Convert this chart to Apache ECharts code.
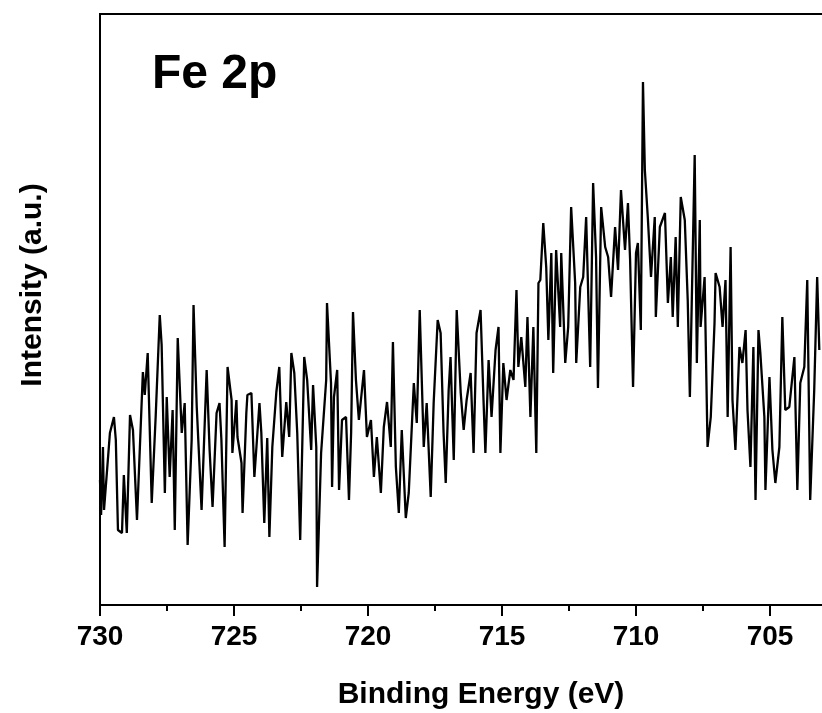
<!DOCTYPE html>
<html>
<head>
<meta charset="utf-8">
<script src="https://cdn.jsdelivr.net/npm/echarts@6/dist/echarts.min.js"></script>
<style>html,body{margin:0;padding:0;background:#fff;overflow:hidden;width:822px;height:713px;}#c{width:907px;height:713px;}</style>
</head>
<body>
<div id="c"></div>
<script>
const energies = [
730.00,729.96,729.89,729.85,729.63,729.48,729.41,729.33,729.18,729.11,729.00,728.88,728.77,728.62,728.40,728.33,728.22,728.07,727.92,727.77,727.70,727.58,727.51,727.40,727.29,727.21,727.10,726.95,726.84,726.73,726.58,726.51,726.39,726.21,726.02,725.91,725.80,725.65,725.54,
725.47,725.35,725.24,725.09,725.06,724.91,724.87,724.72,724.68,724.54,724.50,724.35,724.24,724.05,723.98,723.87,723.76,723.68,723.57,723.42,723.31,723.20,723.05,722.94,722.86,722.75,722.64,722.53,722.38,722.27,722.12,722.05,721.93,721.90,721.75,721.56,721.53,721.38,721.34,721.27,
721.15,721.08,720.97,720.82,720.71,720.63,720.56,720.45,720.34,720.15,720.04,719.89,719.78,719.67,719.52,719.41,719.29,719.15,719.07,718.96,718.85,718.74,718.59,718.48,718.29,718.18,718.07,717.92,717.81,717.66,717.55,717.40,717.29,717.18,717.10,716.99,716.92,716.80,716.69,
716.54,716.43,716.32,716.17,716.06,715.95,715.80,715.69,715.62,715.50,715.39,715.24,715.13,715.06,714.95,714.83,714.69,714.57,714.46,714.39,714.28,714.13,714.05,713.94,713.83,713.72,713.64,713.57,713.46,713.35,713.27,713.16,713.09,712.98,712.83,
712.79,712.64,712.53,712.42,712.27,712.23,712.08,711.97,711.86,711.71,711.60,711.49,711.42,711.30,711.15,711.04,710.93,710.78,710.67,710.56,710.41,710.30,710.22,710.11,710.00,709.93,709.82,709.74,709.67,709.56,709.44,709.30,709.26,709.11,708.92,708.81,708.70,708.63,708.52,
708.44,708.33,708.18,708.07,707.99,707.92,707.81,707.73,707.62,707.59,707.44,707.33,707.21,707.07,707.03,706.88,706.77,706.66,706.58,706.47,706.40,706.29,706.14,706.03,705.91,705.84,705.73,705.62,705.54,705.43,705.36,
705.21,705.17,705.02,704.91,704.80,704.65,704.54,704.43,704.28,704.09,703.98,703.87,703.72,703.61,703.50,703.35,703.24,703.16
];
// Intensity (a.u.) at each of those energies
const intensities = [
125,90,158,95,172,188,165,75,72,130,72,190,175,85,233,210,252,102,190,290,260,112,208,128,195,75,267,172,202,60,165,300,198,95,235,155,98,192,202,
165,58,238,205,152,205,168,142,92,192,210,212,128,202,172,82,167,68,158,213,238,148,203,168,252,232,172,65,248,225,155,220,158,18,152,225,302,222,118,208,
235,115,185,188,105,172,293,225,185,235,168,185,128,168,112,178,203,158,263,138,92,175,87,112,222,182,295,158,202,108,202,285,272,172,122,215,248,145,295,
212,175,205,232,152,272,295,205,152,245,188,255,278,152,242,205,235,225,315,238,268,218,288,188,278,152,322,325,382,338,265,352,232,355,278,
352,242,278,398,322,242,318,328,388,238,422,348,217,398,358,348,308,378,335,415,355,402,345,218,352,362,275,523,435,388,328,388,288,378,392,302,348,288,368,
278,408,385,305,208,302,450,242,385,278,328,158,188,282,332,318,278,325,188,358,205,155,258,242,275,195,138,258,105,275,252,
188,115,228,155,122,158,288,195,198,248,115,222,238,325,105,215,328,255
];
// X-axis tick values
const xTicks = [730, 725, 720, 715, 710, 705];
const panelLabel = 'Fe 2p';
const xTitle = 'Binding Energy (eV)';
const yTitle = 'Intensity (a.u.)';

const data = energies.map((e, i) => [e, intensities[i]]);
const FONT = '"Liberation Sans", Arial, sans-serif';

const chart = echarts.init(document.getElementById('c'), null, {renderer: 'canvas'});
chart.setOption({
  animation: false,
  backgroundColor: '#fff',
  grid: {left: 100, right: 0, top: 14, bottom: 108, show: true, borderColor: '#000', borderWidth: 2, backgroundColor: 'transparent'},
  xAxis: {
    type: 'value', inverse: true, min: 700, max: 730, interval: 5,
    axisLine: {show: true, onZero: false, lineStyle: {color: '#000', width: 2}},
    axisTick: {show: true, inside: false, length: 11, lineStyle: {color: '#000', width: 2}},
    minorTick: {show: true, splitNumber: 2, length: 6, lineStyle: {color: '#000', width: 2}},
    splitLine: {show: false},
    axisLabel: {
      show: true, margin: 18, color: '#000', fontSize: 28, fontWeight: 'bold', fontFamily: FONT,
      formatter: v => (xTicks.indexOf(v) >= 0 ? String(v) : '')
    }
  },
  yAxis: {
    type: 'value', min: 0, max: 591,
    axisLine: {show: true, onZero: false, lineStyle: {color: '#000', width: 2}},
    axisTick: {show: false}, axisLabel: {show: false}, splitLine: {show: false}
  },
  series: [{
    type: 'line', data: data, symbol: 'none', clip: true,
    lineStyle: {color: '#000', width: 2.3}
  }],
  graphic: [
    {type: 'text', left: 152, top: 75 - 24, style: {text: panelLabel, fill: '#000', font: 'bold 48px ' + FONT}},
    {type: 'text', x: 481, y: 695, style: {text: xTitle, fill: '#000', font: 'bold 30px ' + FONT, align: 'center', verticalAlign: 'middle'}},
    {type: 'text', x: 33, y: 285, rotation: Math.PI / 2, style: {text: yTitle, fill: '#000', font: 'bold 30px ' + FONT, align: 'center', verticalAlign: 'middle'}}
  ]
});
</script>
</body>
</html>
